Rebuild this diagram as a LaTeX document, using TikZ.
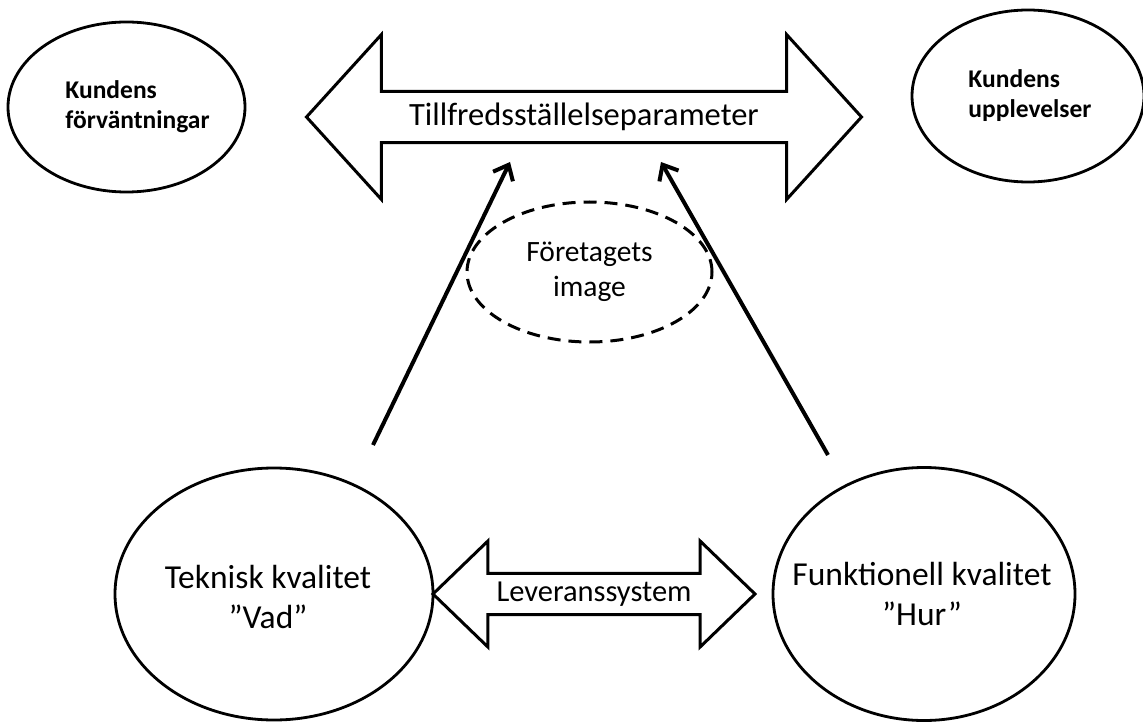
\documentclass[tikz,border=0pt]{standalone}
\usepackage{fontspec}
\setmainfont{Carlito}
\usetikzlibrary{shapes,shapes.geometric,shapes.arrows,arrows.meta,positioning}

\begin{document}
\begin{tikzpicture}[x=1pt,y=-1pt,
  cust/.style={ellipse, draw, line width=2.8pt},
  ctxt/.style={align=left, font=\bfseries\fontsize{25.5}{30}\selectfont},
  qual/.style={ellipse, draw, line width=2.8pt},
  qtxt/.style={align=center, font=\fontsize{33.5}{40}\selectfont},
  img/.style={ellipse, draw, line width=3pt, dash pattern=on 13pt off 8pt,
    align=center, font=\fontsize{29.5}{35}\selectfont},
  dbl/.style={double arrow, draw, line width=3pt, double arrow head indent=0pt},
  arr/.style={line width=4pt, -{Straight Barb[length=13pt,width=22pt]}}
]

% Page
\path[use as bounding box, fill=white] (0,0) rectangle (1143,722);

% Customer side
\node[cust, minimum width=237pt, minimum height=170pt,
  label={[ctxt, xshift=11pt]center:Kundens\\förväntningar}]
  (expect) at (126.5,107) {};
\node[cust, minimum width=232pt, minimum height=172pt,
  label={[ctxt, xshift=2pt]center:Kundens\\upplevelser}]
  (exper) at (1028,96) {};

% Satisfaction
\node[dbl, minimum height=555pt, minimum width=165pt,
  double arrow head extend=41.5pt, double arrow tip angle=95.5,
  font=\fontsize{32.5}{39}\selectfont] (sat) at (584,117)
  {Tillfredsställelseparameter};

% Image
\node[img, minimum width=245pt, minimum height=140pt] (image) at (589.5,272)
  {Företagets\\image};

% Quality
\node[qual, minimum width=318pt, minimum height=252pt,
  label={[qtxt, xshift=-6pt, yshift=-3pt]center:Teknisk kvalitet\\”Vad”}]
  (tech) at (274,594) {};
\node[qual, minimum width=302pt, minimum height=253pt,
  label={[qtxt, xshift=-2pt]center:Funktionell kvalitet\\”Hur”}]
  (func) at (924,594) {};

\node[dbl, minimum height=322pt, minimum width=106pt,
  double arrow head extend=27pt, double arrow tip angle=88,
  font=\fontsize{30.5}{36}\selectfont] (deliv) at (594,594)
  {Leveranssystem};

% Arrows
\coordinate (techFoot) at (373,445);
\coordinate (techTip) at (510,162);
\coordinate (funcFoot) at (828,455);
\coordinate (funcTip) at (661,162);
\draw[arr] (techFoot) -- (techTip);
\draw[arr] (funcFoot) -- (funcTip);
\end{tikzpicture}
\end{document}
